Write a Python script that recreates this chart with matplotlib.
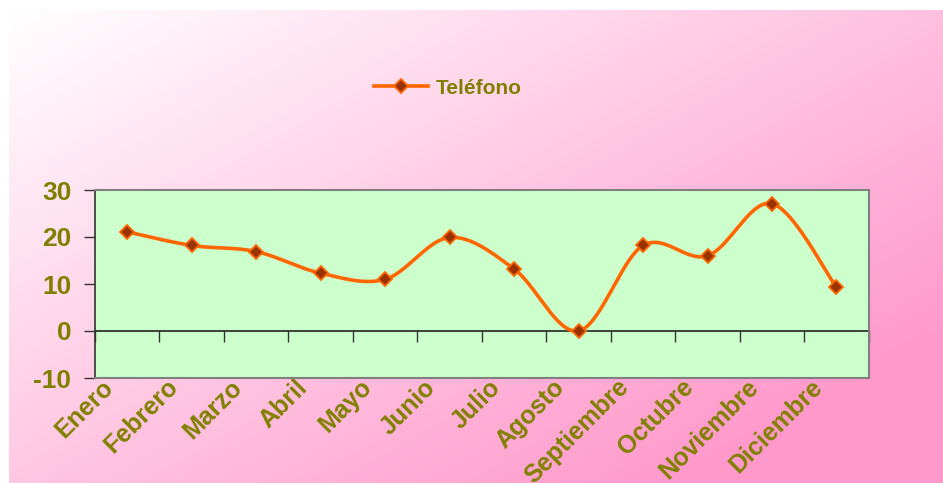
import numpy as np
import matplotlib
matplotlib.use("Agg")
import matplotlib.pyplot as plt
from matplotlib.transforms import ScaledTranslation
from matplotlib.lines import Line2D

meses = ["Enero", "Febrero", "Marzo", "Abril", "Mayo", "Junio", "Julio",
         "Agosto", "Septiembre", "Octubre", "Noviembre", "Diciembre"]
telefono = [21.1, 18.2, 16.9, 12.3, 11.0, 19.9, 13.2, 0.0, 18.2, 16.0, 27.1, 9.3]
yticks = [-10, 0, 10, 20, 30]
serie = "Teléfono"

OLIVE = "#808000"
ORANGE = "#FF6600"
MARKER = "#993300"

plt.rcParams['font.family'] = ['Liberation Sans', 'DejaVu Sans']
plt.rcParams['axes.unicode_minus'] = False

fig = plt.figure(figsize=(9.43, 4.83), dpi=100)

# background gradient
bg = fig.add_axes([9/943, 0, 1 - 9/943, 1 - 10/483], zorder=-10)
ny, nx = 200, 400
xx, yy = np.meshgrid(np.linspace(0, 1, nx), np.linspace(0, 1, ny))
t = np.clip((xx * 0.62 + yy * 0.55), 0, 1)
c0 = np.array([1.0, 1.0, 1.0])
c1 = np.array([1.0, 0.60, 0.80])
img = c0[None, None, :] * (1 - t[..., None]) + c1[None, None, :] * t[..., None]
bg.imshow(img, aspect='auto', extent=[0, 1, 1, 0], interpolation='bilinear')
bg.axis('off')

ax = fig.add_axes([95/943, 1 - 378/483, (868.7 - 95)/943, (378 - 190)/483])
ax.set_facecolor("#CCFFCC")

# Excel-like smoothed line (Catmull-Rom Bezier)
x = np.arange(len(telefono), dtype=float)
y = np.array(telefono, dtype=float)
xs, ys = [], []
n = len(x)
for i in range(n - 1):
    p0 = (x[i - 1], y[i - 1]) if i > 0 else (x[i], y[i])
    p1 = (x[i], y[i])
    p2 = (x[i + 1], y[i + 1])
    p3 = (x[i + 2], y[i + 2]) if i + 2 < n else (x[i + 1], y[i + 1])
    c1p = (p1[0] + (p2[0] - p0[0]) / 6, p1[1] + (p2[1] - p0[1]) / 6)
    c2p = (p2[0] - (p3[0] - p1[0]) / 6, p2[1] - (p3[1] - p1[1]) / 6)
    tt = np.linspace(0, 1, 40)
    bx = ((1 - tt) ** 3 * p1[0] + 3 * (1 - tt) ** 2 * tt * c1p[0]
          + 3 * (1 - tt) * tt ** 2 * c2p[0] + tt ** 3 * p2[0])
    by = ((1 - tt) ** 3 * p1[1] + 3 * (1 - tt) ** 2 * tt * c1p[1]
          + 3 * (1 - tt) * tt ** 2 * c2p[1] + tt ** 3 * p2[1])
    xs.extend(bx)
    ys.extend(by)
ax.plot(xs, ys, color=ORANGE, lw=2.6, solid_capstyle='round', zorder=3)
ax.plot(x, y, ls='none', marker='D', ms=7, mfc=MARKER, mec=ORANGE, mew=1.3, zorder=4)

ax.set_xlim(-0.5, len(meses) - 0.5)
ax.set_ylim(-10, 30)
ax.set_yticks(yticks)
ax.tick_params(axis='y', direction='out', length=8, width=1, color='#333333', pad=9,
               labelsize=19, labelcolor=OLIVE)
for lab in ax.get_yticklabels():
    lab.set_fontweight('bold')

ax.set_xticks(x)
ax.set_xticklabels(meses, rotation=45, ha='right', va='top', rotation_mode='anchor',
                   fontsize=18, fontweight='bold', color=OLIVE)
ax.tick_params(axis='x', length=0, pad=0)
off = ScaledTranslation(-26/100, 3/100, fig.dpi_scale_trans)
for lab in ax.get_xticklabels():
    lab.set_transform(lab.get_transform() + off)

for s in ['top', 'right', 'bottom']:
    ax.spines[s].set_color('#808080')
    ax.spines[s].set_linewidth(1.5)
ax.spines['left'].set_color('#333333')
ax.spines['left'].set_linewidth(1.2)

# category axis at y = 0
sec = ax.secondary_xaxis(0.25)
sec.set_xticks(np.arange(len(meses) + 1) - 0.5)
sec.set_xticklabels([])
sec.tick_params(axis='x', direction='out', length=8, width=1, color='#333333')
sec.spines['bottom'].set_color('#222222')
sec.spines['bottom'].set_linewidth(1.2)

handle = Line2D([], [], color=ORANGE, lw=2.6, marker='D', ms=7, mfc=MARKER, mec=ORANGE, mew=1.3)
leg = fig.legend([handle], [serie], loc='center', bbox_to_anchor=(448/943, 1 - 88/483),
                 frameon=False, handlelength=2.6, handletextpad=0.4,
                 prop={'weight': 'bold', 'size': 15})
for txt in leg.get_texts():
    txt.set_color(OLIVE)

fig.savefig("out.png", dpi=100)
